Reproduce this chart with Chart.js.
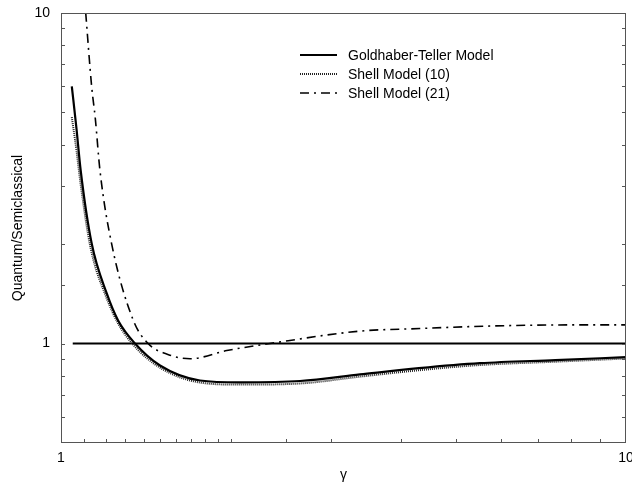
<!DOCTYPE html>
<html>
<head>
<meta charset="utf-8">
<script src="https://cdn.jsdelivr.net/npm/chart.js@4"></script>
<style>
html,body{margin:0;padding:0;background:#fff;}
#wrap{width:632px;height:489px;position:relative;}
</style>
</head>
<body>
<div id="wrap"><canvas id="c" width="632" height="489"></canvas></div>
<script>
// ---- data ----
const gtX    = [1.045, 1.065, 1.0835, 1.133, 1.205, 1.262, 1.352, 1.497, 1.762, 2.074, 2.649, 3.383, 4.3, 5.515, 7.5, 10];
const gtY    = [6.0,   4.48,  3.34,   2.01,  1.417, 1.174, 1.0,   0.858, 0.773, 0.763, 0.770, 0.806, 0.842, 0.872, 0.891, 0.909];
const sm10X  = [1.045, 1.065, 1.0835, 1.1287, 1.2012, 1.262, 1.346, 1.497, 1.762, 2.074, 2.649, 3.383, 4.3, 5.515, 7.5, 10];
const sm10Y  = [4.84,  3.85,  3.03,   1.94,   1.388,  1.15,  0.986, 0.845, 0.762, 0.751, 0.757, 0.794, 0.830, 0.861, 0.881, 0.901];
const sm21X  = [1.106, 1.133, 1.15, 1.172, 1.229, 1.343, 1.426, 1.55, 1.692, 1.965, 2.343, 3.383, 4.32, 5.58, 7.5, 10];
const sm21Y  = [10,    6.0,   4.8,  3.34,  2.005, 1.174, 1.0,   0.925, 0.899, 0.952, 1.0,   1.09,  1.11, 1.128, 1.138, 1.139];
const refX   = [1.049, 10];
const refY   = [1, 1];
const seriesLabels = ['Goldhaber-Teller Model', 'Shell Model (10)', 'Shell Model (21)'];
const xTickLabels = [1, 10];
const yTickLabels = [1, 10];
const xTitle = 'γ';
const yTitle = 'Quantum/Semiclassical';

const pts = (xs, ys) => xs.map((x, i) => ({x: x, y: ys[i]}));
const FONT = "'Liberation Sans', Arial, Helvetica, sans-serif";

const datasets = [
  {label: seriesLabels[0], data: pts(gtX, gtY), borderColor: '#000', borderWidth: 2.2, borderDash: [], inLegend: true},
  {label: seriesLabels[1], data: pts(sm10X, sm10Y), borderColor: '#222', borderWidth: 2, borderDash: [1, 1], inLegend: true},
  {label: seriesLabels[2], data: pts(sm21X, sm21Y), borderColor: '#000', borderWidth: 1.6, borderDash: [9, 5, 2, 5], inLegend: true},
  {label: '', data: pts(refX, refY), borderColor: '#000', borderWidth: 2.2, borderDash: [], inLegend: false}
].map(d => Object.assign(d, {fill: false, pointRadius: 0, cubicInterpolationMode: 'monotone', showLine: true}));

const framePlugin = {
  id: 'frame',
  afterDraw(chart) {
    const ctx = chart.ctx, a = chart.chartArea;
    const xs = chart.scales.x, ys = chart.scales.y;
    ctx.save();
    ctx.strokeStyle = '#555';
    ctx.lineWidth = 1;
    ctx.strokeRect(a.left + 0.5, a.top + 0.5, a.right - a.left - 1, a.bottom - a.top - 1);
    // inner tick marks
    ctx.beginPath();
    xs.ticks.forEach(t => {
      const p = Math.round(xs.getPixelForValue(t.value)) + 0.5;
      if (p <= a.left + 1 || p >= a.right - 1) return;
      ctx.moveTo(p, a.bottom); ctx.lineTo(p, a.bottom - 4);
    });
    ys.ticks.forEach(t => {
      const p = Math.round(ys.getPixelForValue(t.value)) + 0.5;
      if (p <= a.top + 1 || p >= a.bottom - 1) return;
      ctx.moveTo(a.left, p); ctx.lineTo(a.left + 4, p);
      ctx.moveTo(a.right, p); ctx.lineTo(a.right - 4, p);
    });
    ctx.stroke();
    // legend
    const lx0 = 300, lx1 = 337, tx = 348, ys0 = 55, dy = 19;
    ctx.font = '14px ' + FONT;
    ctx.textBaseline = 'middle';
    ctx.fillStyle = '#000';
    let row = 0;
    chart.data.datasets.forEach(ds => {
      if (!ds.inLegend) return;
      const y = ys0 + row * dy;
      ctx.beginPath();
      ctx.strokeStyle = ds.borderColor;
      ctx.lineWidth = ds.borderWidth;
      ctx.setLineDash(ds.borderDash || []);
      ctx.moveTo(lx0, y); ctx.lineTo(lx1, y);
      ctx.stroke();
      ctx.setLineDash([]);
      ctx.fillText(ds.label, tx, y + 1);
      row++;
    });
    ctx.restore();
  }
};

new Chart(document.getElementById('c'), {
  type: 'scatter',
  data: {datasets: datasets},
  options: {
    responsive: false,
    animation: false,
    devicePixelRatio: 1,
    layout: {padding: {left: 0, right: 6, top: 13, bottom: 0}},
    plugins: {legend: {display: false}, tooltip: {enabled: false}},
    scales: {
      x: {
        type: 'logarithmic', min: 1, max: 10,
        grid: {display: false, drawTicks: false},
        border: {display: false},
        ticks: {
          autoSkip: false, maxRotation: 0, padding: 7, color: '#000',
          font: {family: FONT, size: 14},
          callback: (v) => xTickLabels.includes(v) ? String(v) : ''
        },
        title: {display: true, text: xTitle, color: '#000', font: {family: FONT, size: 14}, padding: {top: 0, bottom: 5}},
        afterFit: (s) => { s.height = 46; s.paddingLeft = 0; s.paddingRight = 0; }
      },
      y: {
        type: 'logarithmic', min: 0.5, max: 10,
        grid: {display: false, drawTicks: false},
        border: {display: false},
        ticks: {
          autoSkip: false, padding: 11, color: '#000',
          font: {family: FONT, size: 14},
          callback: (v) => yTickLabels.includes(v) ? String(v) : ''
        },
        title: {display: true, text: yTitle, color: '#000', font: {family: FONT, size: 14}, padding: {top: 10, bottom: 0}},
        afterFit: (s) => { s.width = 61; s.paddingTop = 0; s.paddingBottom = 0; }
      }
    }
  },
  plugins: [framePlugin]
});
</script>
</body>
</html>
